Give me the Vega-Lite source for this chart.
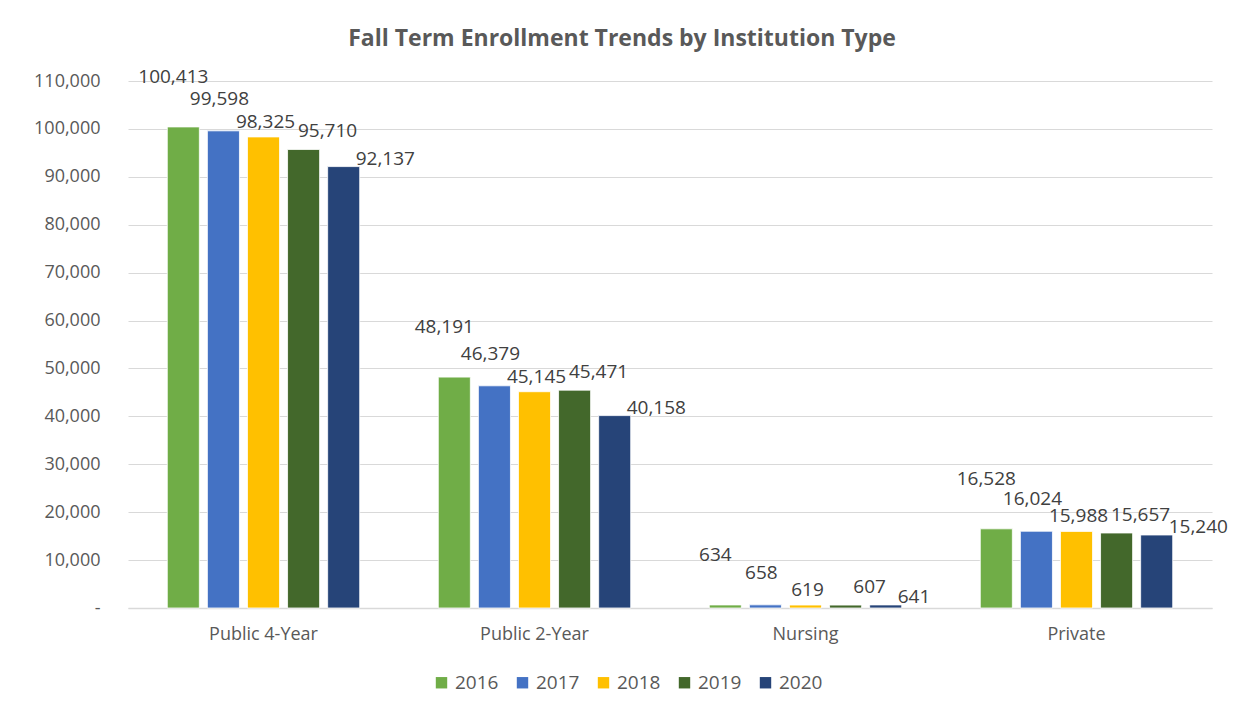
{
  "$schema": "https://vega.github.io/schema/vega-lite/v6.json",
  "width": 1084,
  "height": 527,
  "autosize": {"type": "none"},
  "padding": {"left": 128, "top": 81, "right": 26, "bottom": 106},
  "background": "white",
  "config": {
    "font": "Open Sans",
    "view": {"stroke": null},
    "axis": {"labelFont": "Open Sans", "labelColor": "#595959", "labelFontSize": 18},
    "legend": {"labelFont": "Open Sans"}
  },
  "title": {
    "text": "Fall Term Enrollment Trends by Institution Type",
    "fontSize": 23,
    "fontWeight": "bold",
    "color": "#595959",
    "dx": -48,
    "offset": 17
  },
  "data": {
    "values": [
      {"type": "Public 4-Year", "year": "2016", "enrollment": 100413},
      {"type": "Public 4-Year", "year": "2017", "enrollment": 99598},
      {"type": "Public 4-Year", "year": "2018", "enrollment": 98325},
      {"type": "Public 4-Year", "year": "2019", "enrollment": 95710},
      {"type": "Public 4-Year", "year": "2020", "enrollment": 92137},
      {"type": "Public 2-Year", "year": "2016", "enrollment": 48191},
      {"type": "Public 2-Year", "year": "2017", "enrollment": 46379},
      {"type": "Public 2-Year", "year": "2018", "enrollment": 45145},
      {"type": "Public 2-Year", "year": "2019", "enrollment": 45471},
      {"type": "Public 2-Year", "year": "2020", "enrollment": 40158},
      {"type": "Nursing", "year": "2016", "enrollment": 634},
      {"type": "Nursing", "year": "2017", "enrollment": 658},
      {"type": "Nursing", "year": "2018", "enrollment": 619},
      {"type": "Nursing", "year": "2019", "enrollment": 607},
      {"type": "Nursing", "year": "2020", "enrollment": 641},
      {"type": "Private", "year": "2016", "enrollment": 16528},
      {"type": "Private", "year": "2017", "enrollment": 16024},
      {"type": "Private", "year": "2018", "enrollment": 15988},
      {"type": "Private", "year": "2019", "enrollment": 15657},
      {"type": "Private", "year": "2020", "enrollment": 15240}
    ]
  },
  "encoding": {
    "x": {
      "field": "type",
      "type": "nominal",
      "sort": ["Public 4-Year", "Public 2-Year", "Nursing", "Private"],
      "scale": {"paddingInner": 0, "paddingOuter": 0},
      "axis": {
        "title": null,
        "labelAngle": 0,
        "ticks": false,
        "domain": true,
        "domainColor": "#D9D9D9",
        "domainWidth": 1.5,
        "labelPadding": 17,
        "labelFontSize": 18
      }
    },
    "xOffset": {
      "field": "year",
      "type": "nominal",
      "scale": {"paddingInner": 0.2, "paddingOuter": 0.98}
    },
    "y": {
      "field": "enrollment",
      "type": "quantitative",
      "scale": {"domain": [0, 110000], "nice": false},
      "axis": {
        "title": null,
        "values": [0, 10000, 20000, 30000, 40000, 50000, 60000, 70000, 80000, 90000, 100000, 110000],
        "labelExpr": "datum.value === 0 ? '-\u00a0\u00a0\u00a0\u00a0' : format(datum.value, ',')",
        "ticks": false,
        "domain": false,
        "gridColor": "#D9D9D9",
        "gridWidth": 1.2,
        "labelPadding": 28,
        "labelFontSize": 18
      }
    }
  },
  "layer": [
    {
      "mark": {"type": "bar", "stroke": "white", "strokeWidth": 0.8},
      "encoding": {
        "color": {
          "field": "year",
          "type": "nominal",
          "scale": {
            "domain": ["2016", "2017", "2018", "2019", "2020"],
            "range": ["#70AD47", "#4472C4", "#FFC000", "#43682B", "#264478"]
          },
          "legend": {
            "title": null,
            "orient": "none",
            "direction": "horizontal",
            "legendX": 304,
            "legendY": 592,
            "symbolType": "square",
            "symbolSize": 130,
            "symbolStrokeWidth": 0,
            "labelFontSize": 19,
            "labelColor": "#595959",
            "labelOffset": 4,
            "columnPadding": 14
          }
        }
      }
    },
    {
      "transform": [{"filter": "datum.year === '2016'"}],
      "mark": {"type": "text", "fontSize": 19, "color": "#404040", "baseline": "middle", "dx": -10, "dy": -50},
      "encoding": {"text": {"field": "enrollment", "type": "quantitative", "format": ","}}
    },
    {
      "transform": [{"filter": "datum.year === '2017'"}],
      "mark": {"type": "text", "fontSize": 19, "color": "#404040", "baseline": "middle", "dx": -4, "dy": -32},
      "encoding": {"text": {"field": "enrollment", "type": "quantitative", "format": ","}}
    },
    {
      "transform": [{"filter": "datum.year === '2018'"}],
      "mark": {"type": "text", "fontSize": 19, "color": "#404040", "baseline": "middle", "dx": 2, "dy": -15},
      "encoding": {"text": {"field": "enrollment", "type": "quantitative", "format": ","}}
    },
    {
      "transform": [{"filter": "datum.year === '2019'"}],
      "mark": {"type": "text", "fontSize": 19, "color": "#404040", "baseline": "middle", "dx": 24, "dy": -18},
      "encoding": {"text": {"field": "enrollment", "type": "quantitative", "format": ","}}
    },
    {
      "transform": [{"filter": "datum.year === '2020'"}],
      "mark": {"type": "text", "fontSize": 19, "color": "#404040", "baseline": "middle", "align": "left", "dx": 12, "dy": -8},
      "encoding": {"text": {"field": "enrollment", "type": "quantitative", "format": ","}}
    }
  ]
}
